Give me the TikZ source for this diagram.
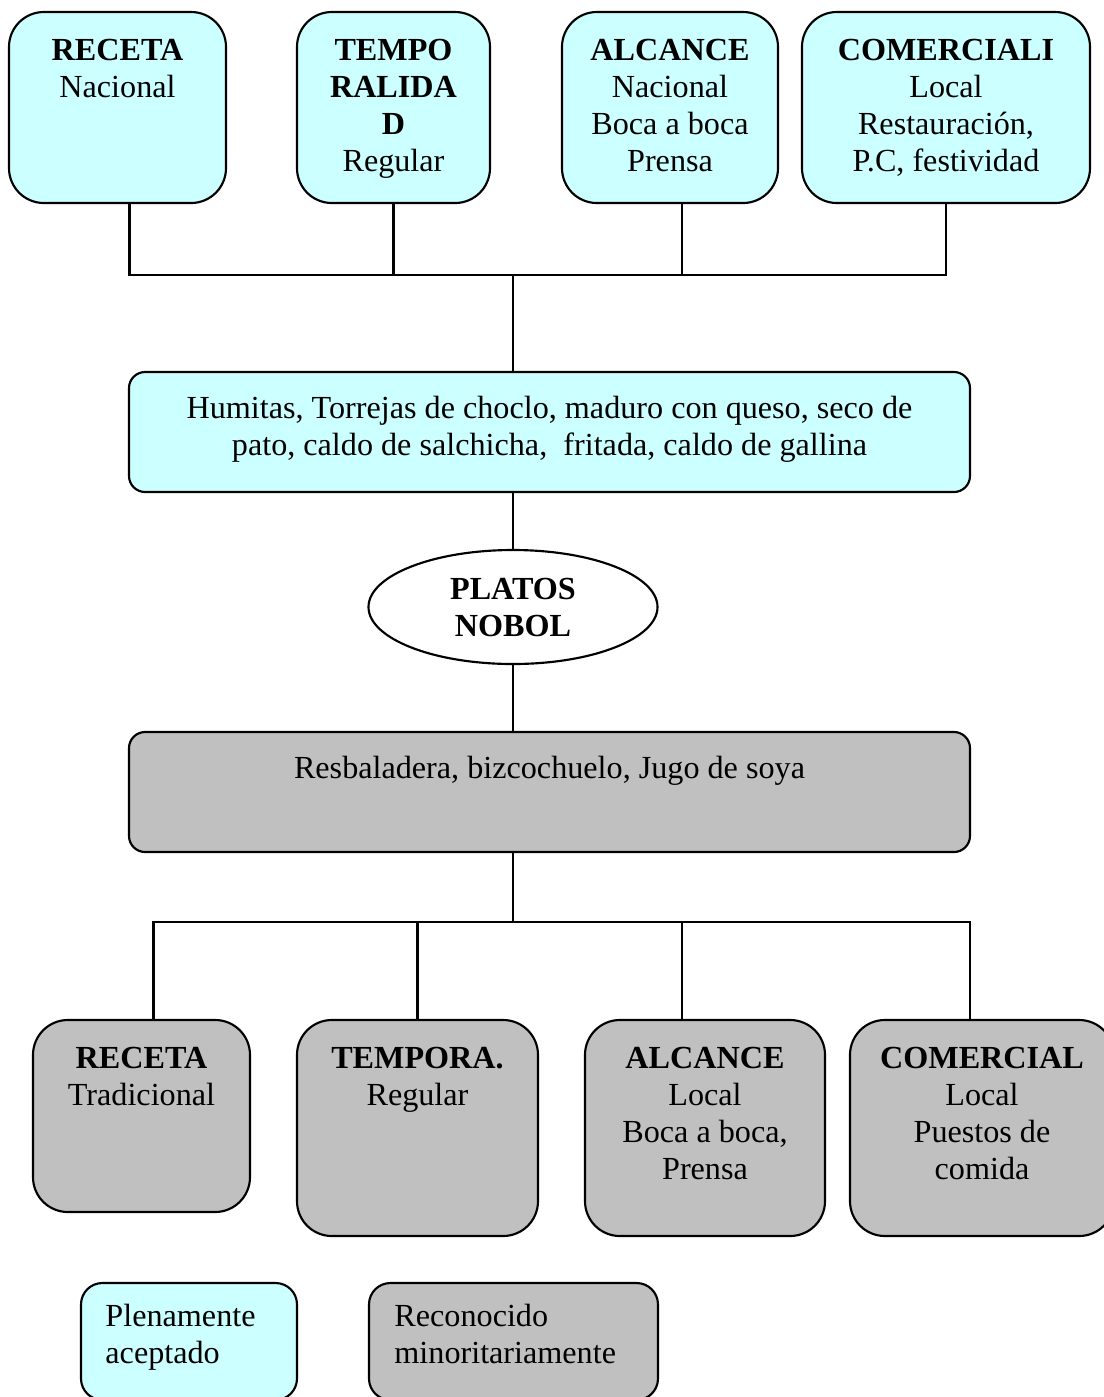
\documentclass[tikz,border=0pt]{standalone}
\usepackage{fontspec}
\setmainfont{Liberation Serif}
\usetikzlibrary{positioning}
\usetikzlibrary{calc}
\usetikzlibrary{shapes.geometric}
\definecolor{aceptado}{HTML}{CCFFFF}
\definecolor{minoria}{HTML}{C0C0C0}
\newcommand{\pix}{0.373pt}
\newcommand{\letra}{\fontsize{12pt}{13.8pt}\selectfont}

\tikzset{
  caja/.style={draw, line width=0.8pt, rounded corners=13pt, inner sep=0pt},
  cajacyan/.style={caja, fill=aceptado},
  cajagris/.style={caja, fill=minoria},
  texto/.style={anchor=base, inner sep=0pt, align=center, font=\letra,
    execute at begin node={\spaceskip=0.25em\xspaceskip=0.25em\relax}},
  linea/.style={line width=0.8pt},
}

\begin{document}
\begin{tikzpicture}[x=0.373pt, y=-0.373pt]
    \useasboundingbox (0,0) rectangle (1104,1397);

    % fila de arriba
    \node[cajacyan, minimum width=217*\pix, minimum height=191*\pix] (r1) at (117.5,107.5) {};
    \node[cajacyan, minimum width=193*\pix, minimum height=191*\pix] (r2) at (393.5,107.5) {};
    \node[cajacyan, minimum width=216*\pix, minimum height=191*\pix] (r3) at (670,107.5) {};
    \node[cajacyan, minimum width=288*\pix, minimum height=191*\pix] (r4) at (946,107.5) {};
    \node[texto, text width=200*\pix] (r1t) at ([yshift=-50*\pix]r1.north) {\textbf{RECETA}\\Nacional};
    \node[texto, text width=180*\pix] (r2t) at ([yshift=-50*\pix]r2.north) {\textbf{TEMPO}\\\textbf{RALIDA}\\\textbf{D}\\Regular};
    \node[texto, text width=200*\pix] (r3t) at ([yshift=-50*\pix]r3.north) {\textbf{ALCANCE}\\Nacional\\Boca a boca\\Prensa};
    \node[texto, text width=270*\pix] (r4t) at ([yshift=-50*\pix]r4.north) {\textbf{COMERCIALI}\\Local\\Restauración,\\P.C, festividad};

    % platos aceptados
    \node[cajacyan, rounded corners=6pt, minimum width=841*\pix, minimum height=120*\pix] (hum) at (549.5,432) {};
    \node[texto, text width=800*\pix] (humt) at ([yshift=-48*\pix]hum.north)
      {Humitas, Torrejas de choclo, maduro con queso, seco de\\pato, caldo de salchicha,\ \ fritada, caldo de gallina};

    % centro
    \node[draw, line width=0.8pt, ellipse, inner sep=0pt, minimum width=289*\pix, minimum height=114*\pix,
      align=center, font=\letra\bfseries] (platos) at (513,607) {PLATOS\\NOBOL};

    % platos minoritarios
    \node[cajagris, rounded corners=6pt, minimum width=841*\pix, minimum height=120*\pix] (res) at (549.5,792) {};
    \node[texto, text width=800*\pix] (rest) at ([yshift=-48*\pix]res.north) {Resbaladera, bizcochuelo, Jugo de soya};

    % fila de abajo
    \node[cajagris, minimum width=217*\pix, minimum height=192*\pix] (b1) at (141.5,1116) {};
    \node[cajagris, minimum width=241*\pix, minimum height=216*\pix] (b2) at (417.5,1128) {};
    \node[cajagris, minimum width=240*\pix, minimum height=216*\pix] (b3) at (705,1128) {};
    \node[cajagris, minimum width=264*\pix, minimum height=216*\pix] (b4) at (982,1128) {};
    \node[texto, text width=200*\pix] (b1t) at ([yshift=-50*\pix]b1.north) {\textbf{RECETA}\\Tradicional};
    \node[texto, text width=220*\pix] (b2t) at ([yshift=-50*\pix]b2.north) {\textbf{TEMPORA.}\\Regular};
    \node[texto, text width=220*\pix] (b3t) at ([yshift=-50*\pix]b3.north) {\textbf{ALCANCE}\\Local\\Boca a boca,\\Prensa};
    \node[texto, text width=240*\pix] (b4t) at ([yshift=-50*\pix]b4.north) {\textbf{COMERCIAL}\\Local\\Puestos de\\comida};

    % leyenda
    \node[cajacyan, rounded corners=8pt, minimum width=216*\pix, minimum height=117*\pix] (ley1) at (189,1341.5) {};
    \node[cajagris, rounded corners=8pt, minimum width=289*\pix, minimum height=117*\pix] (ley2) at (513.5,1341.5) {};
    \node[texto, align=left, text width=185*\pix, anchor=base west] (ley1t) at ([xshift=25*\pix, yshift=-45*\pix]ley1.north west) {Plenamente\\aceptado};
    \node[texto, align=left, text width=260*\pix, anchor=base west] (ley2t) at ([xshift=26*\pix, yshift=-45*\pix]ley2.north west) {Reconocido\\minoritariamente};

    % conectores de arriba
    \coordinate (jarriba) at (513,275);
    \draw[linea] ([xshift=12*\pix]r1.south) |- (r4.south |- jarriba) -- (r4.south);
    \draw[linea] (r2.south) -- (r2.south |- jarriba);
    \draw[linea] ([xshift=12*\pix]r3.south) -- ([xshift=12*\pix]r3.south |- jarriba);
    \draw[linea] (jarriba) -- (jarriba |- hum.north);
    \draw[linea] (jarriba |- hum.south) -- (platos.north);
    \draw[linea] (platos.south) -- (platos.south |- res.north);

    % conectores de abajo
    \coordinate (jabajo) at (513,922);
    \draw[linea] (jabajo |- res.south) -- (jabajo);
    \draw[linea] ([xshift=12*\pix]b1.north) |- ([xshift=-12*\pix]b4.north |- jabajo) -- ([xshift=-12*\pix]b4.north);
    \draw[linea] (b2.north) -- (b2.north |- jabajo);
    \draw[linea] ([xshift=-23*\pix]b3.north) -- ([xshift=-23*\pix]b3.north |- jabajo);

\end{tikzpicture}
\end{document}
